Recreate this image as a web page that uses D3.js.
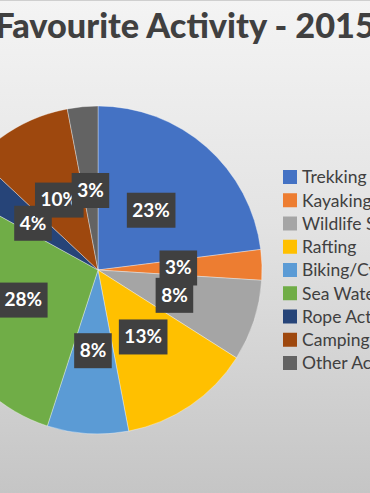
<!DOCTYPE html>
<html>
<head>
<meta charset="utf-8">
<script src="https://cdn.jsdelivr.net/npm/d3@7"></script>
<style>
  body { margin: 0; overflow: hidden; }
  svg { display: block; }
</style>
</head>
<body>
<svg id="chart" width="370" height="493"></svg>
<script>
// data
var categories = ["Trekking", "Kayaking", "Wildlife Safari", "Rafting", "Biking/Cycling",
  "Sea Water Activities", "Rope Activities", "Camping", "Other Activities"];
var values = [23, 3, 8, 13, 8, 28, 4, 10, 3];
var colors = ["#4472C4", "#ED7D31", "#A5A5A5", "#FFC000", "#5B9BD5",
  "#70AD47", "#264478", "#9E480E", "#636363"];
var title = "Favourite Activity - 2015";

var svg = d3.select("#chart"),
  width = +svg.attr("width"),
  height = +svg.attr("height");

// background gradient
var defs = svg.append("defs");
var grad = defs.append("linearGradient")
  .attr("id", "bg")
  .attr("x1", 0).attr("y1", 0).attr("x2", 0).attr("y2", 1);
grad.append("stop").attr("offset", "0%").attr("stop-color", "#f4f4f4");
grad.append("stop").attr("offset", "45%").attr("stop-color", "#e3e3e3");
grad.append("stop").attr("offset", "100%").attr("stop-color", "#c5c5c5");

svg.append("rect")
  .attr("width", width).attr("height", height)
  .attr("fill", "url(#bg)");
svg.append("line")
  .attr("x1", 0).attr("x2", width).attr("y1", 0.5).attr("y2", 0.5)
  .attr("stroke", "#cfcfcf");

// title, stretched so it runs off both edges like the reference crop
var t = svg.append("text")
  .attr("x", 185)
  .attr("y", 38)
  .attr("text-anchor", "middle")
  .style("font-family", "Lato, 'Open Sans', sans-serif")
  .style("font-weight", "900")
  .style("font-size", "30px")
  .style("fill", "#404040")
  .text(title);
var tw = t.node().getComputedTextLength();
t.style("font-size", (30 * 380 / tw) + "px");

// pie
var cx = 98, cy = 270, radius = 164;
var color = d3.scaleOrdinal().domain(categories).range(colors);

var pie = d3.pie().sort(null).value(function(d, i) { return values[i]; });
var arcs = pie(categories);

var arc = d3.arc().innerRadius(0).outerRadius(radius);
var labelArc = d3.arc().innerRadius(radius * 0.49).outerRadius(radius * 0.49);

var g = svg.append("g")
  .attr("transform", "translate(" + cx + "," + cy + ")");

g.selectAll(".slice")
  .data(arcs)
  .enter()
  .append("path")
  .attr("class", "slice")
  .attr("d", arc)
  .attr("fill", function(d) { return color(d.data); })
  .attr("stroke", "rgba(255,255,255,0.5)")
  .attr("stroke-width", 0.7);

// data labels in dark boxes
var labels = g.selectAll(".lbl")
  .data(arcs)
  .enter()
  .append("g")
  .attr("class", "lbl")
  .attr("transform", function(d) {
    var c = labelArc.centroid(d);
    return "translate(" + c[0] + "," + c[1] + ")";
  });

labels.each(function(d) {
  var lg = d3.select(this);
  var rect = lg.append("rect").attr("fill", "#404040");
  var txt = lg.append("text")
    .attr("text-anchor", "middle")
    .attr("dy", "0.36em")
    .style("font-family", "Lato, 'Open Sans', sans-serif")
    .style("font-weight", "bold")
    .style("font-size", "19px")
    .style("fill", "#ffffff")
    .text(d.value + "%");
  var w = txt.node().getComputedTextLength() + 11;
  rect.attr("x", -w / 2).attr("y", -17).attr("width", w).attr("height", 35);
});

// legend
var legend = svg.append("g")
  .attr("transform", "translate(283,177)");

var items = legend.selectAll(".item")
  .data(categories)
  .enter()
  .append("g")
  .attr("class", "item")
  .attr("transform", function(d, i) { return "translate(0," + (i * 23.25) + ")"; });

items.append("rect")
  .attr("x", 0).attr("y", -7)
  .attr("width", 14).attr("height", 14)
  .attr("fill", function(d) { return color(d); });

items.append("text")
  .attr("x", 19)
  .attr("dy", "0.36em")
  .style("font-family", "Lato, 'Open Sans', sans-serif")
  .style("font-size", "17.5px")
  .style("fill", "#404040")
  .text(function(d) { return d; });
</script>
</body>
</html>
